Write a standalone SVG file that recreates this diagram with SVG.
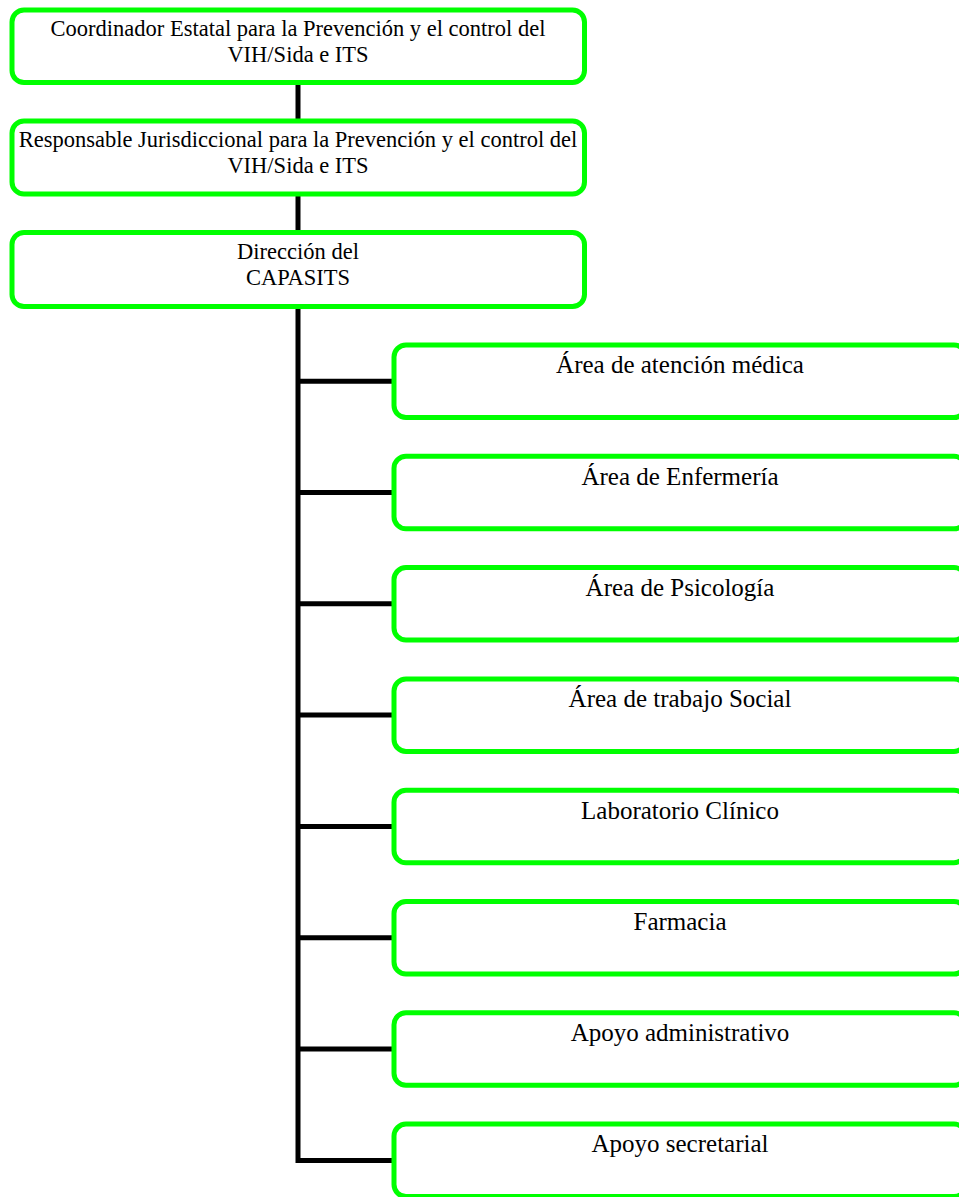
<svg xmlns="http://www.w3.org/2000/svg" width="959" height="1197" viewBox="0 0 959 1197">
  <style>
    .box { fill: #ffffff; stroke: #00ff00; stroke-width: 5; }
    .lbl { font-family: "Liberation Serif", "Times New Roman", serif; fill: #000000; text-anchor: middle; }
    .top { font-size: 22.5px; }
    .sub { font-size: 25px; }
    .wire { fill: none; stroke: #000000; stroke-width: 5; stroke-linejoin: miter; stroke-linecap: butt; }
  </style>
  <rect width="959" height="1197" fill="#ffffff"/>

  <!-- connectors -->
  <g id="connectors">
    <line class="wire" x1="298" y1="82.5" x2="298" y2="121"/>
    <line class="wire" x1="298" y1="194" x2="298" y2="232.5"/>
    <path class="wire" d="M298,306.5 V1160.5 H394"/>
    <line class="wire" x1="298" y1="381.2" x2="394" y2="381.2"/>
    <line class="wire" x1="298" y1="492.5" x2="394" y2="492.5"/>
    <line class="wire" x1="298" y1="603.8" x2="394" y2="603.8"/>
    <line class="wire" x1="298" y1="715.1" x2="394" y2="715.1"/>
    <line class="wire" x1="298" y1="826.4" x2="394" y2="826.4"/>
    <line class="wire" x1="298" y1="937.7" x2="394" y2="937.7"/>
    <line class="wire" x1="298" y1="1049" x2="394" y2="1049"/>
  </g>

  <!-- upper chain -->
  <g id="coordinador">
    <rect class="box" x="12" y="10" width="572.5" height="72.5" rx="12"/>
    <text class="lbl top" x="298" y="36">Coordinador Estatal para la Prevención y el control del</text>
    <text class="lbl top" x="298" y="62">VIH/Sida e ITS</text>
  </g>
  <g id="responsable">
    <rect class="box" x="12" y="121" width="572.5" height="73" rx="12"/>
    <text class="lbl top" x="298" y="147">Responsable Jurisdiccional para la Prevención y el control del</text>
    <text class="lbl top" x="298" y="173.3">VIH/Sida e ITS</text>
  </g>
  <g id="direccion">
    <rect class="box" x="12" y="232.5" width="572.5" height="74" rx="12"/>
    <text class="lbl top" x="298" y="258.5">Dirección del</text>
    <text class="lbl top" x="298" y="285">CAPASITS</text>
  </g>

  <!-- areas -->
  <g id="atencion-medica">
    <rect class="box" x="394" y="345" width="572" height="72.5" rx="12"/>
    <text class="lbl sub" x="680" y="373.3">Área de atención médica</text>
  </g>
  <g id="enfermeria">
    <rect class="box" x="394" y="456.3" width="572" height="72.5" rx="12"/>
    <text class="lbl sub" x="680" y="484.6">Área de Enfermería</text>
  </g>
  <g id="psicologia">
    <rect class="box" x="394" y="567.6" width="572" height="72.5" rx="12"/>
    <text class="lbl sub" x="680" y="595.9">Área de Psicología</text>
  </g>
  <g id="trabajo-social">
    <rect class="box" x="394" y="678.9" width="572" height="72.5" rx="12"/>
    <text class="lbl sub" x="680" y="707.2">Área de trabajo Social</text>
  </g>
  <g id="laboratorio">
    <rect class="box" x="394" y="790.2" width="572" height="72.5" rx="12"/>
    <text class="lbl sub" x="680" y="818.5">Laboratorio Clínico</text>
  </g>
  <g id="farmacia">
    <rect class="box" x="394" y="901.5" width="572" height="72.5" rx="12"/>
    <text class="lbl sub" x="680" y="929.8">Farmacia</text>
  </g>
  <g id="apoyo-administrativo">
    <rect class="box" x="394" y="1012.8" width="572" height="72.5" rx="12"/>
    <text class="lbl sub" x="680" y="1041.1">Apoyo administrativo</text>
  </g>
  <g id="apoyo-secretarial">
    <rect class="box" x="394" y="1124.1" width="572" height="72.5" rx="12"/>
    <text class="lbl sub" x="680" y="1152.4">Apoyo secretarial</text>
  </g>
</svg>
